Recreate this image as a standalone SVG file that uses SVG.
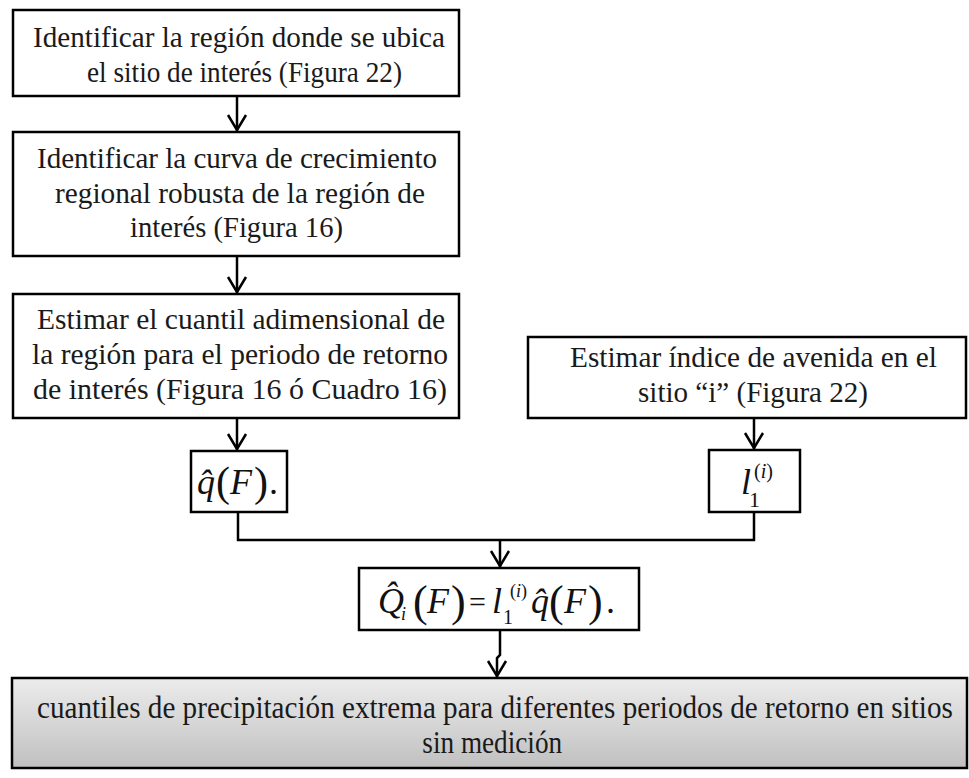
<svg xmlns="http://www.w3.org/2000/svg" width="969" height="778" viewBox="0 0 969 778">
<style>
.box{fill:#fff;stroke:#000;stroke-width:2.5}
.gbox{fill:url(#g);stroke:#000;stroke-width:2.5}
.t{font-size:30px;fill:#1a1a1a}
.tb{font-size:32px;fill:#1a1a1a}
.m{fill:#111}
.i{font-style:italic}
.c{fill:none;stroke:#000;stroke-width:2.5}
</style>
<defs>
<linearGradient id="g" x1="0" y1="0" x2="0" y2="1">
<stop offset="0" stop-color="#ececec"/>
<stop offset="1" stop-color="#c0c0c0"/>
</linearGradient>
</defs>
<g id="connectors">
<path class="c" d="M237,96 V131"/>
<path class="c" d="M237,256 V293"/>
<path class="c" d="M237,418 V450"/>
<path class="c" d="M754,418 V449"/>
<path class="c" d="M238,512 V540 H754 V512"/>
<path class="c" d="M500,540 V567"/>
<path class="c" d="M500,630 V655 L497,658 V677"/>
<g fill="none" stroke="#000" stroke-width="2.5">
<path d="M228,115 L237,130 L246,115"/>
<path d="M228,277 L237,292 L246,277"/>
<path d="M228,434 L237,449 L246,434"/>
<path d="M745,433 L754,448 L763,433"/>
<path d="M491,551 L500,566 L509,551"/>
<path d="M488,661 L497,676 L506,661"/>
</g>
</g>
<g font-family="'Liberation Serif', 'Times New Roman', serif">
<g id="n1">
<rect class="box" x="13" y="10" width="446" height="86"/>
<text class="t" x="33" y="47" textLength="412" lengthAdjust="spacingAndGlyphs">Identificar la región donde se ubica</text>
<text class="t" x="87" y="82" textLength="315" lengthAdjust="spacingAndGlyphs">el sitio de interés (Figura 22)</text>
</g>
<g id="n2">
<rect class="box" x="13" y="132" width="446" height="124"/>
<text class="t" x="37" y="168" textLength="400" lengthAdjust="spacingAndGlyphs">Identificar la curva de crecimiento</text>
<text class="t" x="55" y="203" textLength="370" lengthAdjust="spacingAndGlyphs">regional robusta de la región de</text>
<text class="t" x="130" y="237" textLength="213" lengthAdjust="spacingAndGlyphs">interés (Figura 16)</text>
</g>
<g id="n3">
<rect class="box" x="13" y="294" width="446" height="124"/>
<text class="t" x="37" y="329" textLength="408" lengthAdjust="spacingAndGlyphs">Estimar el cuantil adimensional de</text>
<text class="t" x="32" y="364" textLength="416" lengthAdjust="spacingAndGlyphs">la región para el periodo de retorno</text>
<text class="t" x="33" y="399" textLength="414" lengthAdjust="spacingAndGlyphs">de interés (Figura 16 ó Cuadro 16)</text>
</g>
<g id="n4">
<rect class="box" x="528" y="337" width="438" height="81"/>
<text class="t" x="570" y="367" textLength="367" lengthAdjust="spacingAndGlyphs">Estimar índice de avenida en el</text>
<text class="t" x="638" y="402" textLength="230" lengthAdjust="spacingAndGlyphs">sitio “i” (Figura 22)</text>
</g>
<g id="n5">
<rect class="box" x="191" y="451" width="96" height="61"/>
<text class="m" y="494" font-size="36"><tspan class="i" x="197">q̂</tspan><tspan x="216" font-size="42" dy="2">(</tspan><tspan class="i" x="230" dy="-2">F</tspan><tspan x="254" font-size="42" dy="2">)</tspan><tspan x="269" dy="-2">.</tspan></text>
</g>
<g id="n6">
<rect class="box" x="709" y="450" width="91" height="62"/>
<text class="m" y="494" font-size="36"><tspan class="i" x="741">l</tspan><tspan x="749" font-size="22" dy="13">1</tspan><tspan x="754" font-size="20" dy="-29">(<tspan class="i">i</tspan>)</tspan></text>
</g>
<g id="n7">
<rect class="box" x="359" y="568" width="280" height="62"/>
<text class="m" y="613" font-size="36"><tspan class="i" x="378">Q̂</tspan><tspan class="i" x="401" font-size="18" dy="7">i</tspan><tspan x="413" font-size="44" dy="-4">(</tspan><tspan class="i" x="427" dy="-3">F</tspan><tspan x="451" font-size="44" dy="3">)</tspan><tspan x="469" font-size="30" dy="-4">=</tspan><tspan class="i" x="492" dy="1">l</tspan><tspan x="503" font-size="20" dy="11">1</tspan><tspan x="510" font-size="18" dy="-27">(<tspan class="i">i</tspan>)</tspan><tspan class="i" x="531" dy="16">q̂</tspan><tspan x="549" font-size="44" dy="3">(</tspan><tspan class="i" x="564" dy="-3">F</tspan><tspan x="588" font-size="44" dy="3">)</tspan><tspan x="606" dy="-3">.</tspan></text>
</g>
<g id="n8">
<rect class="gbox" x="12" y="678" width="955" height="90"/>
<g transform="translate(37,0) scale(0.89,1)">
<text class="tb" x="0" y="718" textLength="1029" lengthAdjust="spacingAndGlyphs">cuantiles de precipitación extrema para diferentes periodos de retorno en sitios</text>
<text class="tb" x="433" y="753" textLength="157" lengthAdjust="spacingAndGlyphs">sin medición</text>
</g>
</g>
</g>
</svg>
